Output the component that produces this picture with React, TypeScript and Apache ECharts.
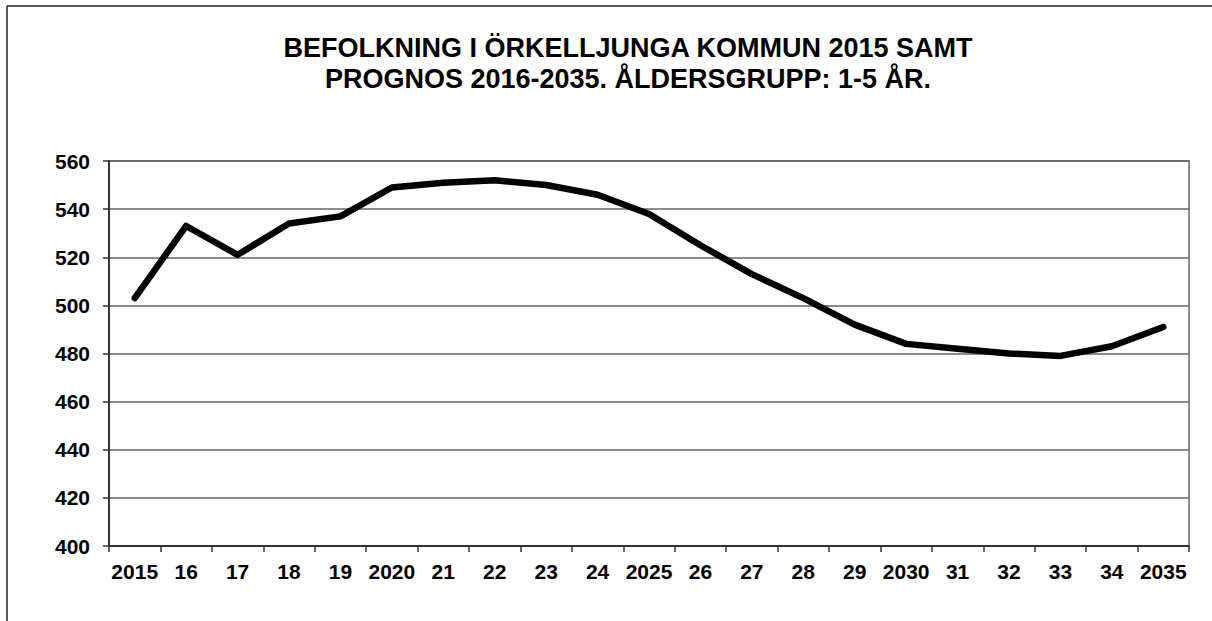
import React, { useEffect, useRef } from "react";
import * as echarts from "echarts";

const categories = ["2015", "16", "17", "18", "19", "2020", "21", "22", "23", "24", "2025", "26", "27", "28", "29", "2030", "31", "32", "33", "34", "2035"];
const population = [503, 533, 521, 534, 537, 549, 551, 552, 550, 546, 538, 525, 513, 503, 492, 484, 482, 480, 479, 483, 491];
const titleLines = ["BEFOLKNING I ÖRKELLJUNGA KOMMUN 2015 SAMT", "PROGNOS 2016-2035. ÅLDERSGRUPP: 1-5 ÅR."];
const yMin = 400;
const yMax = 560;
const yStep = 20;

const FONT = "'Liberation Sans', Arial, sans-serif";

export default function App() {
  const ref = useRef<HTMLDivElement>(null);
  useEffect(() => {
    if (!ref.current) return;
    const chart = echarts.init(ref.current, undefined, { renderer: "svg" });
    chart.setOption({
      animation: false,
      backgroundColor: "#ffffff",
      graphic: [
        { type: "line", shape: { x1: 7, y1: 6, x2: 7, y2: 621 }, style: { stroke: "#222", lineWidth: 1.5 } },
        { type: "line", shape: { x1: 7, y1: 6, x2: 1212, y2: 6 }, style: { stroke: "#222", lineWidth: 1.5 } },
        {
          type: "text",
          x: 628,
          y: 47.5,
          style: { text: titleLines[0], fill: "#000", font: `bold 27px ${FONT}`, textAlign: "center", textVerticalAlign: "middle", align: "center", verticalAlign: "middle" },
        },
        {
          type: "text",
          x: 628,
          y: 79,
          style: { text: titleLines[1], fill: "#000", font: `bold 27px ${FONT}`, textAlign: "center", textVerticalAlign: "middle", align: "center", verticalAlign: "middle" },
        },
      ],
      grid: {
        left: 109,
        top: 161,
        right: 23,
        bottom: 75,
        show: true,
        borderColor: "#888",
        borderWidth: 2,
        containLabel: false,
      },
      xAxis: {
        type: "category",
        data: categories,
        boundaryGap: true,
        axisLine: { show: true, lineStyle: { color: "#333", width: 2 } },
        axisTick: { show: true, length: 6, alignWithLabel: false, interval: 0, lineStyle: { color: "#333", width: 1.5 } },
        axisLabel: { interval: 0, margin: 15, color: "#000", fontSize: 21, fontWeight: "bold", fontFamily: FONT },
        splitLine: { show: false },
      },
      yAxis: {
        type: "value",
        min: yMin,
        max: yMax,
        interval: yStep,
        axisLine: { show: true, lineStyle: { color: "#333", width: 2 } },
        axisTick: { show: true, length: 6, lineStyle: { color: "#333", width: 1.5 } },
        axisLabel: { margin: 19, color: "#000", fontSize: 21, fontWeight: "bold", fontFamily: FONT },
        splitLine: { show: true, lineStyle: { color: "#666", width: 1.5 } },
      },
      series: [
        {
          type: "line",
          data: population,
          symbol: "none",
          lineStyle: { color: "#000", width: 6.5, cap: "round", join: "round" },
        },
      ],
    });
    return () => chart.dispose();
  }, []);
  return <div ref={ref} style={{ position: "absolute", left: 0, top: 0, width: 1212, height: 621 }} />;
}
